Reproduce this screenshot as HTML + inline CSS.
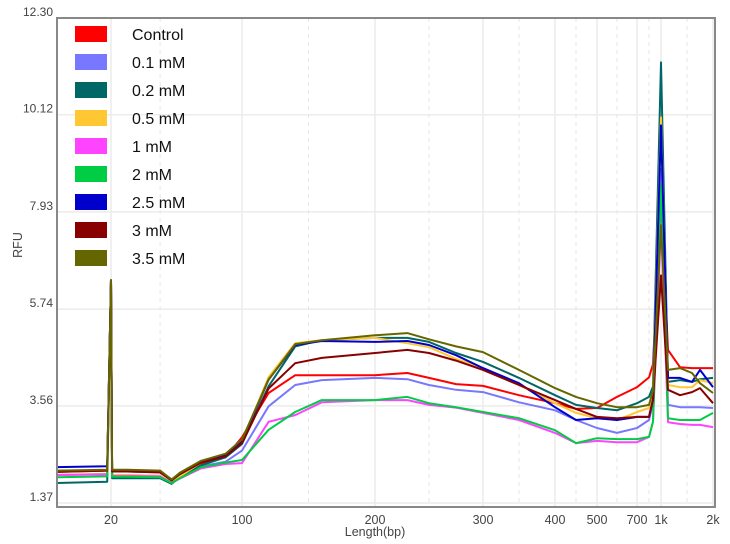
<!DOCTYPE html>
<html><head><meta charset="utf-8">
<style>
html,body{margin:0;padding:0;background:#fff;}
svg{display:block;font-family:"Liberation Sans",sans-serif;}
</style></head>
<body>
<svg id="chart" width="730" height="544" viewBox="0 0 730 544" xmlns="http://www.w3.org/2000/svg"></svg>
<script>
const seriesNames = ["Control","0.1 mM","0.2 mM","0.5 mM","1 mM","2 mM","2.5 mM","3 mM","3.5 mM"];
const seriesColors = ["#ff0000","#7777ff","#006666","#ffc833","#ff44ff","#00cc44","#0000cc","#880000","#666600"];
const sizesBp = [10,19.3,20,20.7,30,50,57,62,75,90,100,120,140,160,200,230,250,275,300,350,400,450,500,600,700,850,900,1000,1135,1365,1596,1750,2000];
const control = [2.07,2.1,6.39,2.1,2.08,2.06,1.88,2.02,2.25,2.40,2.85,3.85,4.25,4.25,4.25,4.30,4.19,4.05,4.01,3.80,3.62,3.49,3.51,3.76,3.98,4.20,4.50,8.19,4.82,4.43,4.41,4.41,4.41];
const mM01 = [2.0,2.02,6.39,2.0,2.0,1.98,1.82,1.95,2.2,2.3,2.55,3.55,4.03,4.14,4.19,4.16,4.03,3.92,3.87,3.64,3.46,3.24,3.06,2.95,3.06,3.24,3.6,8.9,3.58,3.53,3.53,3.53,3.51];
const mM02 = [1.82,1.85,6.39,1.93,1.93,1.93,1.80,1.95,2.22,2.40,2.7,4.0,4.90,5.04,5.09,5.09,5.00,4.75,4.55,4.19,3.80,3.58,3.51,3.46,3.62,3.76,4.0,11.30,4.10,4.14,4.10,4.16,4.19];
const mM05 = [2.0,2.03,6.39,2.0,2.0,1.98,1.82,1.97,2.28,2.45,2.75,4.21,4.97,5.04,5.09,4.97,4.88,4.62,4.41,4.03,3.62,3.40,3.28,3.24,3.42,3.51,3.9,10.06,4.03,3.98,3.98,4.14,4.07];
const mM1 = [2.0,2.02,6.39,1.98,1.98,1.97,1.82,1.92,2.15,2.25,2.27,3.2,3.35,3.64,3.69,3.69,3.58,3.52,3.40,3.24,2.95,2.72,2.77,2.74,2.74,2.86,3.2,7.70,3.19,3.15,3.13,3.13,3.08];
const mM2 = [1.95,1.97,6.39,1.96,1.96,1.95,1.82,1.93,2.18,2.28,2.34,3.02,3.42,3.69,3.69,3.76,3.62,3.53,3.42,3.28,3.01,2.72,2.83,2.81,2.81,2.86,3.2,8.53,3.28,3.24,3.24,3.24,3.40];
const mM25 = [2.18,2.2,6.39,2.1,2.1,2.08,1.9,2.02,2.3,2.45,2.75,4.15,4.93,5.02,5.00,5.02,4.93,4.70,4.41,4.07,3.53,3.24,3.28,3.24,3.31,3.31,3.7,9.88,4.19,4.19,4.10,4.37,3.98];
const mM3 = [2.07,2.1,6.39,2.08,2.08,2.06,1.88,2.02,2.28,2.42,2.72,3.95,4.52,4.64,4.75,4.82,4.75,4.58,4.37,4.03,3.69,3.49,3.31,3.28,3.31,3.31,3.7,6.50,3.92,3.80,3.87,3.96,3.62];
const mM35 = [2.1,2.12,6.39,2.12,2.12,2.1,1.9,2.05,2.32,2.48,2.80,4.15,4.95,5.04,5.15,5.20,5.06,4.90,4.77,4.37,3.96,3.76,3.62,3.53,3.53,3.58,3.9,7.63,4.37,4.41,4.30,4.07,3.85];
const yTicks = [1.37,3.56,5.74,7.93,10.12,12.30];
const xTickValues = [20,100,200,300,400,500,700,1000,2000];
const xTickLabels = ["20","100","200","300","400","500","700","1k","2k"];
const xMinorValues = [50,150,250,350,450,600,850,1500];

const allSeries = [control,mM01,mM02,mM05,mM1,mM2,mM25,mM3,mM35];
const NS="http://www.w3.org/2000/svg";
const svg=document.getElementById('chart');
const L=57,T=18,R=715,B=507;
const ladderBp=[10,20,100,200,300,400,500,700,1000,2000];
const ladderPx=[57,111,242,375,483,555,597,637,661,713];
function xScale(bp){
  for(let i=0;i<ladderBp.length-1;i++){
    if(bp<=ladderBp[i+1]){const t=(bp-ladderBp[i])/(ladderBp[i+1]-ladderBp[i]);return ladderPx[i]+t*(ladderPx[i+1]-ladderPx[i]);}
  }
  return ladderPx[ladderPx.length-1];
}
const yMin=1.37,yMax=12.30,yBot=503,yTop=18;
function yScale(v){return yBot-(v-yMin)/(yMax-yMin)*(yBot-yTop);}
function mk(tag,attrs){const e=document.createElementNS(NS,tag);for(const k in attrs)e.setAttribute(k,attrs[k]);return e;}

yTicks.forEach((v,i)=>{
  const y=yScale(v);
  const g=mk('line',{x1:L,x2:R,y1:y,y2:y,stroke:'#ececec','stroke-width':1.5});
  
  
  svg.appendChild(g);
  const t=mk('text',{x:53,y:y-2,'text-anchor':'end','font-size':12,fill:'#444'});
  t.textContent=v.toFixed(2);
  
  
  svg.appendChild(t);
});
xTickValues.forEach((v,i)=>{
  const x=xScale(v);
  const g=mk('line',{x1:x,x2:x,y1:T,y2:B,stroke:'#ececec','stroke-width':1.5});
  
  
  svg.appendChild(g);
  const t=mk('text',{x:x,y:524,'text-anchor':'middle','font-size':12.5,fill:'#444'});
  t.textContent=xTickLabels[i];
  
  
  svg.appendChild(t);
});
xMinorValues.forEach(v=>{
  const x=xScale(v);
  const g=mk('line',{x1:x,x2:x,y1:T,y2:B,stroke:'#e6e6e6','stroke-width':1,'stroke-dasharray':'4,4'});
  
  
  svg.appendChild(g);
});
allSeries.forEach((vals,si)=>{
  const d=vals.map((v,i)=>(i?'L':'M')+xScale(sizesBp[i]).toFixed(1)+','+yScale(v).toFixed(1)).join(' ');
  const p=mk('path',{d:d,fill:'none',stroke:seriesColors[si],'stroke-width':2,'stroke-linejoin':'round'});
  
  
  svg.appendChild(p);
});
const f=mk('rect',{x:L,y:T,width:R-L,height:B-T,fill:'none',stroke:'#888','stroke-width':2});


svg.appendChild(f);
const xt=mk('text',{x:375,y:536,'text-anchor':'middle','font-size':12.5,fill:'#444'});
xt.textContent='Length(bp)';


svg.appendChild(xt);
const yt=mk('text',{x:0,y:0,'text-anchor':'middle','font-size':12.5,fill:'#444',transform:'translate(22,245) rotate(-90)'});
yt.textContent='RFU';


svg.appendChild(yt);
seriesNames.forEach((n,i)=>{
  const cy=34+i*28;
  const r=mk('rect',{x:75,y:cy-8,width:32,height:16,fill:seriesColors[i]});
  
  
  svg.appendChild(r);
  const t=mk('text',{x:132,y:cy+6,'font-size':16,fill:'#111'});
  t.textContent=n;
  
  
  svg.appendChild(t);
});
</script>
</body></html>
